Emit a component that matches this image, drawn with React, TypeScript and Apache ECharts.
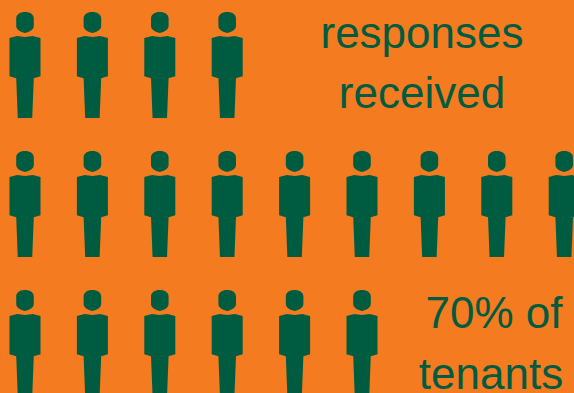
import React, { useEffect, useRef } from "react";
import * as echarts from "echarts";

// Number of tenant figures drawn in each row, top to bottom
const figuresPerRow = [4, 9, 6];
const captionLines = [
  { text: "responses", x: 422, y: 32 },
  { text: "received", x: 422, y: 92 },
  { text: "70% of", x: 494, y: 312 },
  { text: "tenants", x: 491, y: 373 },
];

const BACKGROUND = "#f47b20";
const INK = "#005c41";

// Person silhouette: rounded head, squared torso, tapered single leg block
const PERSON =
  "path://M15.5 0 C20.5 0 24 2.5 24 6.5 L24 14 C24 17.5 20 20 15.5 21 C11 20 7 17.5 7 14 L7 6.5 C7 2.5 10.5 0 15.5 0 Z " +
  "M8 24 L15.5 25 L23 24 L30.5 26 L30.5 64 L24 66 L22.5 105.5 L8.5 105.5 L7 66 L0.5 64 L0.5 26 Z";

export default function App() {
  const ref = useRef<HTMLDivElement>(null);

  useEffect(() => {
    document.body.style.margin = "0";
    const chart = echarts.init(ref.current!, undefined, { renderer: "svg" });
    const points: number[][] = [];
    figuresPerRow.forEach((count, row) => {
      for (let col = 0; col < count; col++) points.push([col, row]);
    });
    chart.setOption({
      animation: false,
      backgroundColor: BACKGROUND,
      grid: { left: 25, right: 9.8, top: 65, bottom: 50 },
      xAxis: { type: "value", min: 0, max: 8, show: false },
      yAxis: { type: "value", min: 0, max: 2, inverse: true, show: false },
      series: [
        {
          type: "scatter",
          clip: false,
          symbol: PERSON,
          symbolSize: [31, 106],
          itemStyle: { color: INK, opacity: 1 },
          data: points,
        },
      ],
      graphic: captionLines.map((line) => ({
        type: "text",
        x: line.x,
        y: line.y,
        style: {
          text: line.text,
          fill: INK,
          fontFamily: "Liberation Sans",
          fontSize: 44,
          textAlign: "center",
          textVerticalAlign: "middle",
        },
      })),
    });
    return () => chart.dispose();
  }, []);

  return <div ref={ref} style={{ width: 574, height: 393, overflow: "hidden" }} />;
}
